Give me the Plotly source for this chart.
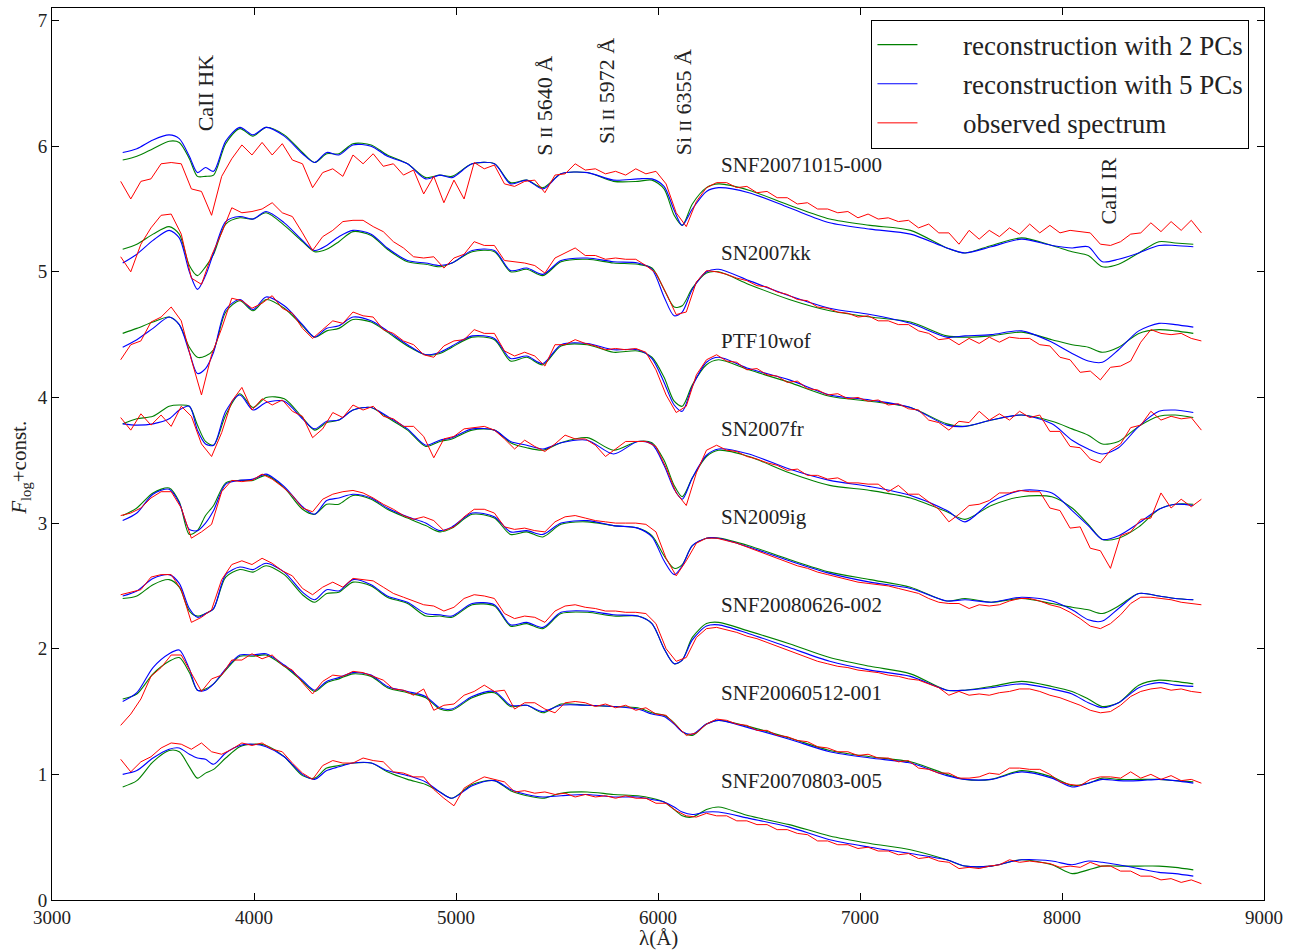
import plotly.graph_objects as go

# Wavelength sampling of the PCA reconstructions (Angstrom)
wave_recon = [3350, 3420, 3500, 3580, 3630, 3680, 3720, 3760, 3800, 3860,
              3930, 3995, 4060, 4150, 4240, 4300, 4360, 4420, 4490, 4580,
              4660, 4760, 4850, 4920, 4980, 5080, 5190, 5270, 5350, 5430,
              5520, 5650, 5780, 5900, 5970, 6030, 6080, 6120, 6170, 6240,
              6300, 6450, 6650, 6850, 7050, 7250, 7430, 7520, 7650, 7800,
              7950, 8050, 8130, 8200, 8280, 8380, 8480, 8560, 8650]

# Wavelength sampling of the observed spectra (Angstrom)
wave_obs = [3340, 3390, 3440, 3490, 3540, 3590, 3640, 3690, 3740, 3790,
            3840, 3890, 3940, 3990, 4040, 4090, 4140, 4190, 4240, 4290,
            4340, 4390, 4440, 4490, 4540, 4590, 4640, 4690, 4740, 4790,
            4840, 4890, 4940, 4990, 5040, 5090, 5140, 5190, 5240, 5290,
            5340, 5390, 5440, 5490, 5540, 5590, 5640, 5690, 5740, 5790,
            5840, 5890, 5940, 5990, 6040, 6090, 6140, 6190, 6240, 6290,
            6340, 6390, 6440, 6490, 6540, 6590, 6640, 6690, 6740, 6790,
            6840, 6890, 6940, 6990, 7040, 7090, 7140, 7190, 7240, 7290,
            7340, 7390, 7440, 7490, 7540, 7590, 7640, 7690, 7740, 7790,
            7840, 7890, 7940, 7990, 8040, 8090, 8140, 8190, 8240, 8290,
            8340, 8390, 8440, 8490, 8540, 8590, 8640, 8690]

sn_names = ["SNF20071015-000", "SN2007kk", "PTF10wof", "SN2007fr",
            "SN2009ig", "SNF20080626-002", "SNF20060512-001", "SNF20070803-005"]
label_y = [5.85, 5.15, 4.45, 3.75, 3.05, 2.35, 1.65, 0.95]

# ---- SNF20071015-000 ----
pc2_snf20071015 = [5.89, 5.92, 5.98, 6.04, 6.03, 5.90, 5.76, 5.76, 5.77, 6.02,
                   6.14, 6.08, 6.15, 6.09, 5.95, 5.87, 5.94, 5.94, 6.02, 6.01,
                   5.93, 5.86, 5.75, 5.77, 5.76, 5.86, 5.86, 5.71, 5.73, 5.67,
                   5.78, 5.79, 5.72, 5.72, 5.73, 5.66, 5.45, 5.37, 5.54, 5.67,
                   5.70, 5.65, 5.53, 5.42, 5.37, 5.33, 5.19, 5.15, 5.21, 5.27,
                   5.21, 5.16, 5.13, 5.04, 5.06, 5.15, 5.24, 5.23, 5.22]
pc5_snf20071015 = [5.95, 5.98, 6.05, 6.09, 6.06, 5.92, 5.79, 5.83, 5.80, 6.04,
                   6.15, 6.09, 6.15, 6.08, 5.94, 5.87, 5.95, 5.93, 6.01, 6.00,
                   5.92, 5.86, 5.74, 5.77, 5.75, 5.86, 5.86, 5.70, 5.73, 5.66,
                   5.78, 5.79, 5.73, 5.74, 5.74, 5.68, 5.49, 5.37, 5.50, 5.64,
                   5.67, 5.63, 5.51, 5.39, 5.34, 5.30, 5.19, 5.15, 5.20, 5.26,
                   5.21, 5.19, 5.20, 5.08, 5.10, 5.15, 5.21, 5.21, 5.20]
obs_snf20071015 = [5.72, 5.58, 5.72, 5.74, 5.86, 5.87, 5.86, 5.66, 5.64, 5.45,
                   5.76, 5.90, 6.01, 5.93, 6.03, 5.93, 6.02, 5.89, 5.86, 5.67,
                   5.79, 5.82, 5.76, 5.93, 5.86, 5.94, 5.84, 5.86, 5.77, 5.81,
                   5.62, 5.76, 5.55, 5.73, 5.58, 5.87, 5.82, 5.85, 5.70, 5.68,
                   5.72, 5.73, 5.63, 5.77, 5.78, 5.86, 5.81, 5.82, 5.78, 5.80,
                   5.77, 5.82, 5.78, 5.80, 5.70, 5.47, 5.36, 5.56, 5.67, 5.71,
                   5.71, 5.67, 5.68, 5.63, 5.64, 5.59, 5.59, 5.54, 5.55, 5.50,
                   5.50, 5.47, 5.48, 5.43, 5.46, 5.42, 5.43, 5.40, 5.41, 5.35,
                   5.38, 5.31, 5.31, 5.22, 5.33, 5.26, 5.33, 5.28, 5.35, 5.30,
                   5.38, 5.31, 5.37, 5.31, 5.33, 5.32, 5.31, 5.22, 5.21, 5.24,
                   5.30, 5.31, 5.39, 5.32, 5.40, 5.33, 5.41, 5.31]

# ---- SN2007kk ----
pc2_sn2007kk = [5.18, 5.22, 5.30, 5.36, 5.30, 5.05, 4.97, 5.04, 5.14, 5.38,
                5.43, 5.42, 5.47, 5.37, 5.24, 5.16, 5.18, 5.24, 5.32, 5.29,
                5.18, 5.08, 5.06, 5.04, 5.07, 5.16, 5.16, 5.00, 5.02, 4.97,
                5.08, 5.10, 5.07, 5.06, 5.03, 4.86, 4.72, 4.73, 4.87, 4.99,
                5.00, 4.90, 4.78, 4.69, 4.64, 4.60, 4.49, 4.48, 4.49, 4.52,
                4.46, 4.42, 4.40, 4.36, 4.40, 4.51, 4.54, 4.53, 4.51]
pc5_sn2007kk = [5.07, 5.14, 5.25, 5.33, 5.27, 5.00, 4.86, 4.97, 5.15, 5.40,
                5.44, 5.42, 5.48, 5.39, 5.25, 5.17, 5.21, 5.28, 5.33, 5.30,
                5.19, 5.09, 5.07, 5.05, 5.07, 5.17, 5.17, 5.01, 5.03, 4.98,
                5.09, 5.11, 5.08, 5.07, 5.02, 4.80, 4.65, 4.68, 4.86, 5.00,
                5.02, 4.93, 4.81, 4.71, 4.66, 4.59, 4.48, 4.49, 4.50, 4.53,
                4.44, 4.35, 4.29, 4.28, 4.38, 4.53, 4.59, 4.58, 4.56]
obs_sn2007kk = [5.12, 5.00, 5.22, 5.35, 5.45, 5.46, 5.30, 4.95, 4.90, 5.13,
                5.31, 5.51, 5.47, 5.48, 5.50, 5.55, 5.47, 5.44, 5.31, 5.17,
                5.28, 5.33, 5.40, 5.41, 5.41, 5.36, 5.32, 5.24, 5.19, 5.12,
                5.11, 5.12, 5.03, 5.11, 5.14, 5.24, 5.21, 5.21, 5.09, 5.08,
                5.07, 5.05, 4.99, 5.11, 5.15, 5.19, 5.13, 5.13, 5.10, 5.11,
                5.10, 5.10, 5.05, 4.99, 4.83, 4.66, 4.68, 4.92, 5.01, 5.00,
                4.98, 4.95, 4.93, 4.89, 4.88, 4.84, 4.82, 4.78, 4.77, 4.72,
                4.71, 4.68, 4.67, 4.64, 4.65, 4.61, 4.61, 4.58, 4.58, 4.53,
                4.51, 4.46, 4.47, 4.42, 4.47, 4.43, 4.48, 4.44, 4.48, 4.47,
                4.47, 4.42, 4.41, 4.32, 4.30, 4.20, 4.21, 4.14, 4.24, 4.25,
                4.29, 4.44, 4.54, 4.51, 4.50, 4.51, 4.47, 4.45]

# ---- PTF10wof ----
pc2_ptf10wof = [4.51, 4.55, 4.60, 4.64, 4.58, 4.40, 4.32, 4.33, 4.38, 4.68,
                4.77, 4.69, 4.78, 4.71, 4.57, 4.48, 4.53, 4.55, 4.62, 4.60,
                4.52, 4.41, 4.34, 4.35, 4.40, 4.48, 4.46, 4.29, 4.32, 4.26,
                4.41, 4.42, 4.36, 4.37, 4.32, 4.16, 3.97, 3.93, 4.10, 4.26,
                4.30, 4.22, 4.12, 4.01, 3.97, 3.92, 3.79, 3.77, 3.82, 3.86,
                3.81, 3.75, 3.70, 3.63, 3.65, 3.77, 3.85, 3.86, 3.84]
pc5_ptf10wof = [4.40, 4.46, 4.55, 4.64, 4.58, 4.36, 4.19, 4.23, 4.36, 4.70,
                4.78, 4.70, 4.80, 4.73, 4.58, 4.48, 4.55, 4.57, 4.64, 4.61,
                4.53, 4.42, 4.34, 4.36, 4.41, 4.49, 4.47, 4.31, 4.33, 4.27,
                4.42, 4.43, 4.38, 4.38, 4.31, 4.12, 3.94, 3.89, 4.09, 4.28,
                4.32, 4.23, 4.14, 4.02, 3.98, 3.92, 3.78, 3.77, 3.82, 3.86,
                3.79, 3.66, 3.59, 3.55, 3.60, 3.77, 3.89, 3.90, 3.88]
obs_ptf10wof = [4.30, 4.42, 4.45, 4.60, 4.64, 4.72, 4.61, 4.30, 4.02, 4.34,
                4.55, 4.79, 4.77, 4.71, 4.75, 4.81, 4.71, 4.67, 4.55, 4.47,
                4.54, 4.61, 4.59, 4.68, 4.65, 4.64, 4.54, 4.51, 4.45, 4.42,
                4.34, 4.32, 4.41, 4.45, 4.46, 4.54, 4.51, 4.51, 4.37, 4.33,
                4.36, 4.33, 4.25, 4.42, 4.42, 4.46, 4.43, 4.41, 4.38, 4.39,
                4.38, 4.39, 4.36, 4.22, 4.02, 3.88, 3.93, 4.18, 4.30, 4.34,
                4.29, 4.28, 4.22, 4.23, 4.18, 4.17, 4.12, 4.13, 4.07, 4.06,
                4.02, 4.03, 3.99, 4.00, 3.97, 3.98, 3.94, 3.95, 3.91, 3.90,
                3.82, 3.80, 3.74, 3.81, 3.80, 3.89, 3.82, 3.87, 3.82, 3.89,
                3.84, 3.86, 3.73, 3.73, 3.61, 3.60, 3.51, 3.48, 3.58, 3.63,
                3.76, 3.78, 3.89, 3.82, 3.85, 3.83, 3.84, 3.74]

# ---- SN2007fr ----
pc2_sn2007fr = [3.79, 3.83, 3.85, 3.93, 3.94, 3.93, 3.78, 3.65, 3.62, 3.86,
                4.03, 3.92, 4.00, 3.99, 3.84, 3.74, 3.80, 3.82, 3.90, 3.92,
                3.84, 3.74, 3.61, 3.65, 3.67, 3.74, 3.74, 3.64, 3.60, 3.58,
                3.64, 3.68, 3.58, 3.65, 3.64, 3.50, 3.30, 3.21, 3.36, 3.53,
                3.58, 3.53, 3.40, 3.30, 3.26, 3.20, 3.09, 3.03, 3.14, 3.21,
                3.21, 3.12, 2.99, 2.87, 2.88, 2.97, 3.11, 3.15, 3.15]
pc5_sn2007fr = [3.79, 3.78, 3.79, 3.83, 3.90, 3.93, 3.74, 3.63, 3.62, 3.89,
                4.02, 3.90, 3.96, 3.97, 3.83, 3.75, 3.81, 3.82, 3.90, 3.92,
                3.85, 3.75, 3.62, 3.66, 3.68, 3.75, 3.74, 3.65, 3.62, 3.59,
                3.64, 3.66, 3.55, 3.65, 3.63, 3.46, 3.27, 3.19, 3.36, 3.54,
                3.59, 3.55, 3.43, 3.34, 3.29, 3.22, 3.10, 3.01, 3.17, 3.26,
                3.24, 3.10, 2.98, 2.87, 2.90, 3.00, 3.11, 3.15, 3.14]
obs_sn2007fr = [3.84, 3.74, 3.87, 3.78, 3.86, 3.77, 3.93, 3.85, 3.63, 3.53,
                3.72, 3.97, 4.08, 3.90, 3.99, 3.94, 3.98, 3.89, 3.85, 3.68,
                3.75, 3.88, 3.84, 3.94, 3.90, 3.93, 3.85, 3.83, 3.77, 3.77,
                3.69, 3.52, 3.67, 3.69, 3.75, 3.76, 3.77, 3.74, 3.67, 3.59,
                3.66, 3.61, 3.57, 3.63, 3.70, 3.67, 3.67, 3.62, 3.53, 3.59,
                3.65, 3.65, 3.65, 3.61, 3.44, 3.24, 3.14, 3.40, 3.58, 3.62,
                3.58, 3.57, 3.53, 3.51, 3.48, 3.46, 3.42, 3.43, 3.38, 3.38,
                3.35, 3.36, 3.32, 3.32, 3.31, 3.31, 3.25, 3.30, 3.23, 3.23,
                3.17, 3.11, 3.01, 3.07, 3.14, 3.15, 3.18, 3.24, 3.24, 3.26,
                3.25, 3.25, 3.12, 3.10, 2.96, 2.97, 2.80, 2.78, 2.64, 2.90,
                2.93, 3.03, 3.04, 3.24, 3.12, 3.19, 3.13, 3.19]

# ---- SN2009ig ----
pc2_sn2009ig = [3.06, 3.12, 3.24, 3.28, 3.17, 2.91, 2.94, 3.06, 3.14, 3.32,
                3.34, 3.34, 3.38, 3.28, 3.11, 3.07, 3.15, 3.15, 3.22, 3.19,
                3.11, 3.04, 2.98, 2.93, 2.96, 3.07, 3.04, 2.91, 2.93, 2.89,
                2.99, 3.01, 2.98, 2.96, 2.90, 2.74, 2.64, 2.67, 2.82, 2.88,
                2.88, 2.82, 2.71, 2.61, 2.55, 2.49, 2.38, 2.40, 2.37, 2.40,
                2.36, 2.33, 2.31, 2.28, 2.34, 2.44, 2.42, 2.40, 2.39]
pc5_sn2009ig = [3.02, 3.08, 3.23, 3.27, 3.16, 2.95, 2.94, 3.00, 3.10, 3.31,
                3.34, 3.35, 3.39, 3.29, 3.13, 3.07, 3.18, 3.20, 3.23, 3.20,
                3.12, 3.05, 3.00, 2.94, 2.97, 3.08, 3.05, 2.93, 2.94, 2.91,
                3.00, 3.02, 2.98, 2.96, 2.89, 2.70, 2.59, 2.66, 2.82, 2.88,
                2.88, 2.81, 2.70, 2.60, 2.53, 2.48, 2.38, 2.39, 2.37, 2.41,
                2.38, 2.31, 2.23, 2.22, 2.32, 2.44, 2.42, 2.40, 2.39]
obs_sn2009ig = [3.06, 3.08, 3.12, 3.20, 3.25, 3.25, 3.12, 2.88, 2.93, 2.99,
                3.25, 3.34, 3.33, 3.34, 3.39, 3.35, 3.29, 3.22, 3.12, 3.09,
                3.19, 3.23, 3.25, 3.26, 3.24, 3.20, 3.15, 3.11, 3.06, 3.03,
                3.05, 3.02, 2.94, 2.97, 3.05, 3.11, 3.11, 3.08, 2.97, 2.95,
                2.96, 2.94, 2.93, 3.01, 3.05, 3.06, 3.04, 3.02, 3.01, 3.00,
                3.00, 3.00, 2.99, 2.93, 2.72, 2.58, 2.70, 2.84, 2.88, 2.88,
                2.86, 2.84, 2.81, 2.78, 2.75, 2.72, 2.69, 2.66, 2.64, 2.61,
                2.59, 2.57, 2.55, 2.53, 2.52, 2.51, 2.50, 2.48, 2.46, 2.44,
                2.40, 2.37, 2.36, 2.36, 2.32, 2.35, 2.34, 2.35, 2.38, 2.40,
                2.40, 2.38, 2.35, 2.33, 2.29, 2.24, 2.18, 2.16, 2.20, 2.27,
                2.36, 2.41, 2.41, 2.40, 2.39, 2.37, 2.36, 2.35]

# ---- SNF20080626-002 ----
pc2_snf20080626 = [2.40, 2.42, 2.51, 2.55, 2.49, 2.30, 2.26, 2.28, 2.32, 2.57,
                   2.63, 2.61, 2.66, 2.59, 2.43, 2.37, 2.44, 2.45, 2.53, 2.50,
                   2.41, 2.36, 2.26, 2.26, 2.25, 2.35, 2.34, 2.18, 2.20, 2.16,
                   2.28, 2.29, 2.26, 2.26, 2.20, 2.00, 1.88, 1.91, 2.09, 2.20,
                   2.21, 2.14, 2.04, 1.93, 1.86, 1.80, 1.67, 1.67, 1.70, 1.74,
                   1.70, 1.66, 1.60, 1.54, 1.57, 1.71, 1.75, 1.74, 1.72]
pc5_snf20080626 = [2.42, 2.46, 2.56, 2.59, 2.52, 2.32, 2.25, 2.28, 2.32, 2.59,
                   2.65, 2.63, 2.68, 2.61, 2.45, 2.39, 2.47, 2.46, 2.55, 2.51,
                   2.42, 2.37, 2.28, 2.27, 2.26, 2.36, 2.35, 2.19, 2.21, 2.17,
                   2.29, 2.30, 2.27, 2.26, 2.20, 2.00, 1.88, 1.91, 2.07, 2.18,
                   2.19, 2.12, 2.01, 1.90, 1.83, 1.78, 1.67, 1.67, 1.69, 1.72,
                   1.68, 1.64, 1.57, 1.53, 1.57, 1.69, 1.73, 1.71, 1.70]
obs_snf20080626 = [2.43, 2.45, 2.47, 2.57, 2.59, 2.59, 2.47, 2.21, 2.25, 2.31,
                   2.55, 2.67, 2.70, 2.67, 2.72, 2.68, 2.62, 2.58, 2.48, 2.43,
                   2.49, 2.53, 2.49, 2.56, 2.55, 2.54, 2.49, 2.44, 2.41, 2.38,
                   2.35, 2.34, 2.30, 2.33, 2.40, 2.43, 2.42, 2.40, 2.28, 2.24,
                   2.26, 2.25, 2.21, 2.30, 2.34, 2.35, 2.33, 2.32, 2.30, 2.30,
                   2.29, 2.29, 2.28, 2.20, 2.00, 1.90, 1.93, 2.09, 2.16, 2.17,
                   2.15, 2.13, 2.10, 2.08, 2.05, 2.02, 1.99, 1.96, 1.93, 1.90,
                   1.88, 1.86, 1.85, 1.83, 1.82, 1.81, 1.79, 1.78, 1.76, 1.75,
                   1.72, 1.69, 1.63, 1.66, 1.63, 1.64, 1.63, 1.65, 1.66, 1.68,
                   1.68, 1.66, 1.63, 1.61, 1.58, 1.55, 1.51, 1.49, 1.50, 1.55,
                   1.62, 1.66, 1.68, 1.69, 1.67, 1.68, 1.66, 1.65]

# ---- SNF20060512-001 ----
pc2_snf20060512 = [1.60, 1.64, 1.80, 1.90, 1.93, 1.81, 1.67, 1.68, 1.72, 1.83,
                   1.94, 1.94, 1.95, 1.86, 1.74, 1.66, 1.73, 1.76, 1.80, 1.78,
                   1.69, 1.65, 1.61, 1.52, 1.51, 1.61, 1.65, 1.54, 1.55, 1.49,
                   1.56, 1.55, 1.54, 1.53, 1.49, 1.47, 1.41, 1.34, 1.31, 1.40,
                   1.43, 1.38, 1.29, 1.19, 1.14, 1.10, 1.00, 0.96, 0.96, 1.03,
                   0.98, 0.91, 0.93, 0.97, 0.96, 0.96, 0.96, 0.95, 0.94]
pc5_snf20060512 = [1.58, 1.65, 1.85, 1.96, 1.99, 1.84, 1.67, 1.67, 1.72, 1.84,
                   1.95, 1.95, 1.96, 1.87, 1.75, 1.67, 1.74, 1.77, 1.81, 1.79,
                   1.70, 1.66, 1.62, 1.53, 1.52, 1.62, 1.66, 1.55, 1.55, 1.50,
                   1.55, 1.55, 1.54, 1.52, 1.48, 1.46, 1.40, 1.34, 1.32, 1.40,
                   1.43, 1.37, 1.28, 1.18, 1.13, 1.09, 0.99, 0.96, 0.96, 1.02,
                   0.97, 0.90, 0.93, 0.96, 0.95, 0.95, 0.96, 0.95, 0.93]
obs_snf20060512 = [1.39, 1.48, 1.60, 1.78, 1.85, 1.95, 1.95, 1.81, 1.66, 1.76,
                   1.79, 1.91, 1.91, 1.96, 1.92, 1.95, 1.87, 1.83, 1.73, 1.64,
                   1.74, 1.79, 1.78, 1.82, 1.81, 1.78, 1.75, 1.68, 1.67, 1.63,
                   1.68, 1.51, 1.55, 1.56, 1.63, 1.66, 1.71, 1.66, 1.67, 1.52,
                   1.57, 1.57, 1.52, 1.49, 1.57, 1.58, 1.57, 1.54, 1.56, 1.53,
                   1.55, 1.51, 1.53, 1.48, 1.47, 1.39, 1.31, 1.33, 1.40, 1.44,
                   1.43, 1.40, 1.39, 1.35, 1.35, 1.31, 1.30, 1.27, 1.26, 1.22,
                   1.21, 1.18, 1.18, 1.15, 1.16, 1.13, 1.13, 1.10, 1.11, 1.05,
                   1.04, 1.01, 1.01, 0.97, 0.97, 0.98, 1.01, 1.00, 1.05, 1.05,
                   1.04, 1.04, 1.00, 0.94, 0.92, 0.91, 0.96, 0.98, 0.98, 0.97,
                   1.02, 0.97, 1.00, 0.96, 0.99, 0.95, 0.96, 0.93]

# ---- SNF20070803-005 ----
pc2_snf20070803 = [0.90, 0.95, 1.10, 1.19, 1.18, 1.06, 0.97, 1.01, 1.04, 1.13,
                   1.22, 1.24, 1.23, 1.14, 0.99, 0.97, 1.05, 1.07, 1.09, 1.09,
                   1.02, 0.96, 0.92, 0.86, 0.81, 0.92, 0.95, 0.87, 0.83, 0.81,
                   0.85, 0.86, 0.84, 0.83, 0.81, 0.78, 0.72, 0.67, 0.66, 0.72,
                   0.74, 0.67, 0.60, 0.51, 0.45, 0.40, 0.32, 0.27, 0.27, 0.32,
                   0.28, 0.21, 0.24, 0.27, 0.27, 0.27, 0.27, 0.26, 0.24]
pc5_snf20070803 = [1.00, 1.03, 1.13, 1.20, 1.21, 1.16, 1.13, 1.12, 1.08, 1.17,
                   1.23, 1.24, 1.22, 1.14, 1.00, 0.96, 1.03, 1.06, 1.09, 1.09,
                   1.03, 0.99, 0.94, 0.86, 0.81, 0.91, 0.95, 0.88, 0.84, 0.82,
                   0.83, 0.84, 0.82, 0.82, 0.80, 0.78, 0.74, 0.70, 0.68, 0.70,
                   0.70, 0.65, 0.58, 0.48, 0.42, 0.37, 0.32, 0.27, 0.27, 0.32,
                   0.31, 0.28, 0.31, 0.30, 0.28, 0.25, 0.22, 0.21, 0.19]
obs_snf20070803 = [1.12, 1.02, 1.10, 1.14, 1.21, 1.25, 1.24, 1.20, 1.25, 1.18,
                   1.16, 1.20, 1.25, 1.23, 1.25, 1.20, 1.18, 1.09, 1.01, 0.96,
                   1.07, 1.11, 1.09, 1.09, 1.13, 1.11, 1.10, 1.02, 1.01, 0.98,
                   0.98, 0.88, 0.81, 0.75, 0.89, 0.94, 0.98, 0.96, 0.94, 0.86,
                   0.87, 0.85, 0.86, 0.84, 0.85, 0.82, 0.84, 0.82, 0.83, 0.81,
                   0.83, 0.81, 0.81, 0.77, 0.77, 0.71, 0.67, 0.66, 0.69, 0.67,
                   0.67, 0.63, 0.63, 0.60, 0.60, 0.56, 0.56, 0.53, 0.52, 0.47,
                   0.47, 0.44, 0.44, 0.41, 0.42, 0.39, 0.39, 0.36, 0.37, 0.33,
                   0.34, 0.31, 0.30, 0.25, 0.26, 0.25, 0.27, 0.28, 0.32, 0.30,
                   0.31, 0.30, 0.29, 0.26, 0.27, 0.26, 0.30, 0.27, 0.27, 0.23,
                   0.23, 0.19, 0.19, 0.16, 0.17, 0.14, 0.16, 0.13]

# Spectral feature markers: (text, wavelength, flux)
feature_text = ["CaII HK",
                "S <span style='font-size:17px'>II</span> 5640 Å",
                "Si <span style='font-size:17px'>II</span> 5972 Å",
                "Si <span style='font-size:17px'>II</span> 6355 Å",
                "CaII IR"]
feature_wave = [3762, 5440, 5748, 6124, 8228]
feature_flux = [6.42, 6.32, 6.44, 6.35, 5.64]

legend_names = ["reconstruction with 2 PCs", "reconstruction with 5 PCs",
                "observed spectrum"]

spectra = list(zip(sn_names, label_y,
                   [pc2_snf20071015, pc2_sn2007kk, pc2_ptf10wof, pc2_sn2007fr,
                    pc2_sn2009ig, pc2_snf20080626, pc2_snf20060512, pc2_snf20070803],
                   [pc5_snf20071015, pc5_sn2007kk, pc5_ptf10wof, pc5_sn2007fr,
                    pc5_sn2009ig, pc5_snf20080626, pc5_snf20060512, pc5_snf20070803],
                   [obs_snf20071015, obs_sn2007kk, obs_ptf10wof, obs_sn2007fr,
                    obs_sn2009ig, obs_snf20080626, obs_snf20060512, obs_snf20070803]))

FONT = "Liberation Serif"
GREEN, BLUE, RED = "#008000", "#0000FF", "#FF0000"
PAD = "\u00a0" * 6  # gap between legend line sample and its text

fig = go.Figure()
for i, (name, ly, pc2, pc5, obs) in enumerate(spectra):
    first = i == 0
    fig.add_trace(go.Scatter(x=wave_recon, y=pc2, mode="lines",
                             line=dict(color=GREEN, width=1.1, shape="spline", smoothing=0.8),
                             name=PAD + legend_names[0], legendgroup="pc2",
                             showlegend=first))
    fig.add_trace(go.Scatter(x=wave_recon, y=pc5, mode="lines",
                             line=dict(color=BLUE, width=1.1, shape="spline", smoothing=0.8),
                             name=PAD + legend_names[1], legendgroup="pc5",
                             showlegend=first))
    fig.add_trace(go.Scatter(x=wave_obs, y=obs, mode="lines",
                             line=dict(color=RED, width=1.0),
                             name=PAD + legend_names[2], legendgroup="obs",
                             showlegend=first))

annotations = []
for name, ly in zip(sn_names, label_y):
    annotations.append(dict(x=6300, y=ly, xref="x", yref="y", text=name,
                            showarrow=False, xanchor="left", yanchor="middle",
                            font=dict(family=FONT, size=21, color="#222")))
for txt, wx, fy in zip(feature_text, feature_wave, feature_flux):
    annotations.append(dict(x=wx, y=fy, xref="x", yref="y", text=txt,
                            showarrow=False, textangle=-90,
                            xanchor="center", yanchor="middle",
                            font=dict(family=FONT, size=22, color="#222")))
annotations.append(dict(x=0.5, y=-0.043, xref="paper", yref="paper", text="λ(Å)",
                        showarrow=False, xanchor="center", yanchor="middle",
                        font=dict(family=FONT, size=21, color="#222")))
annotations.append(dict(x=-0.026, y=0.485, xref="paper", yref="paper",
                        text="<i>F</i><sub>log</sub>+const.", textangle=-90,
                        showarrow=False, xanchor="center", yanchor="middle",
                        font=dict(family=FONT, size=21, color="#222")))

axis_common = dict(showline=True, linecolor="black", linewidth=1, mirror="ticks",
                   ticks="inside", ticklen=7, tickcolor="black", showgrid=False,
                   zeroline=False, tickfont=dict(family=FONT, size=19, color="#222"))

fig.update_layout(
    width=1298, height=951,
    margin=dict(l=52, r=34, t=8, b=51),
    paper_bgcolor="white", plot_bgcolor="white",
    xaxis=dict(range=[3000, 9000], tickvals=[3000, 4000, 5000, 6000, 7000, 8000, 9000],
               **axis_common),
    yaxis=dict(range=[0, 7.1], tickvals=[0, 1, 2, 3, 4, 5, 6, 7], **axis_common),
    legend=dict(x=0.988, y=0.987, xanchor="right", yanchor="top",
                bordercolor="black", borderwidth=1, bgcolor="white",
                font=dict(family=FONT, size=27, color="#222"),
                itemwidth=40, tracegroupgap=1, traceorder="grouped"),
    annotations=annotations,
    showlegend=True,
)

fig.write_html("out.html")
